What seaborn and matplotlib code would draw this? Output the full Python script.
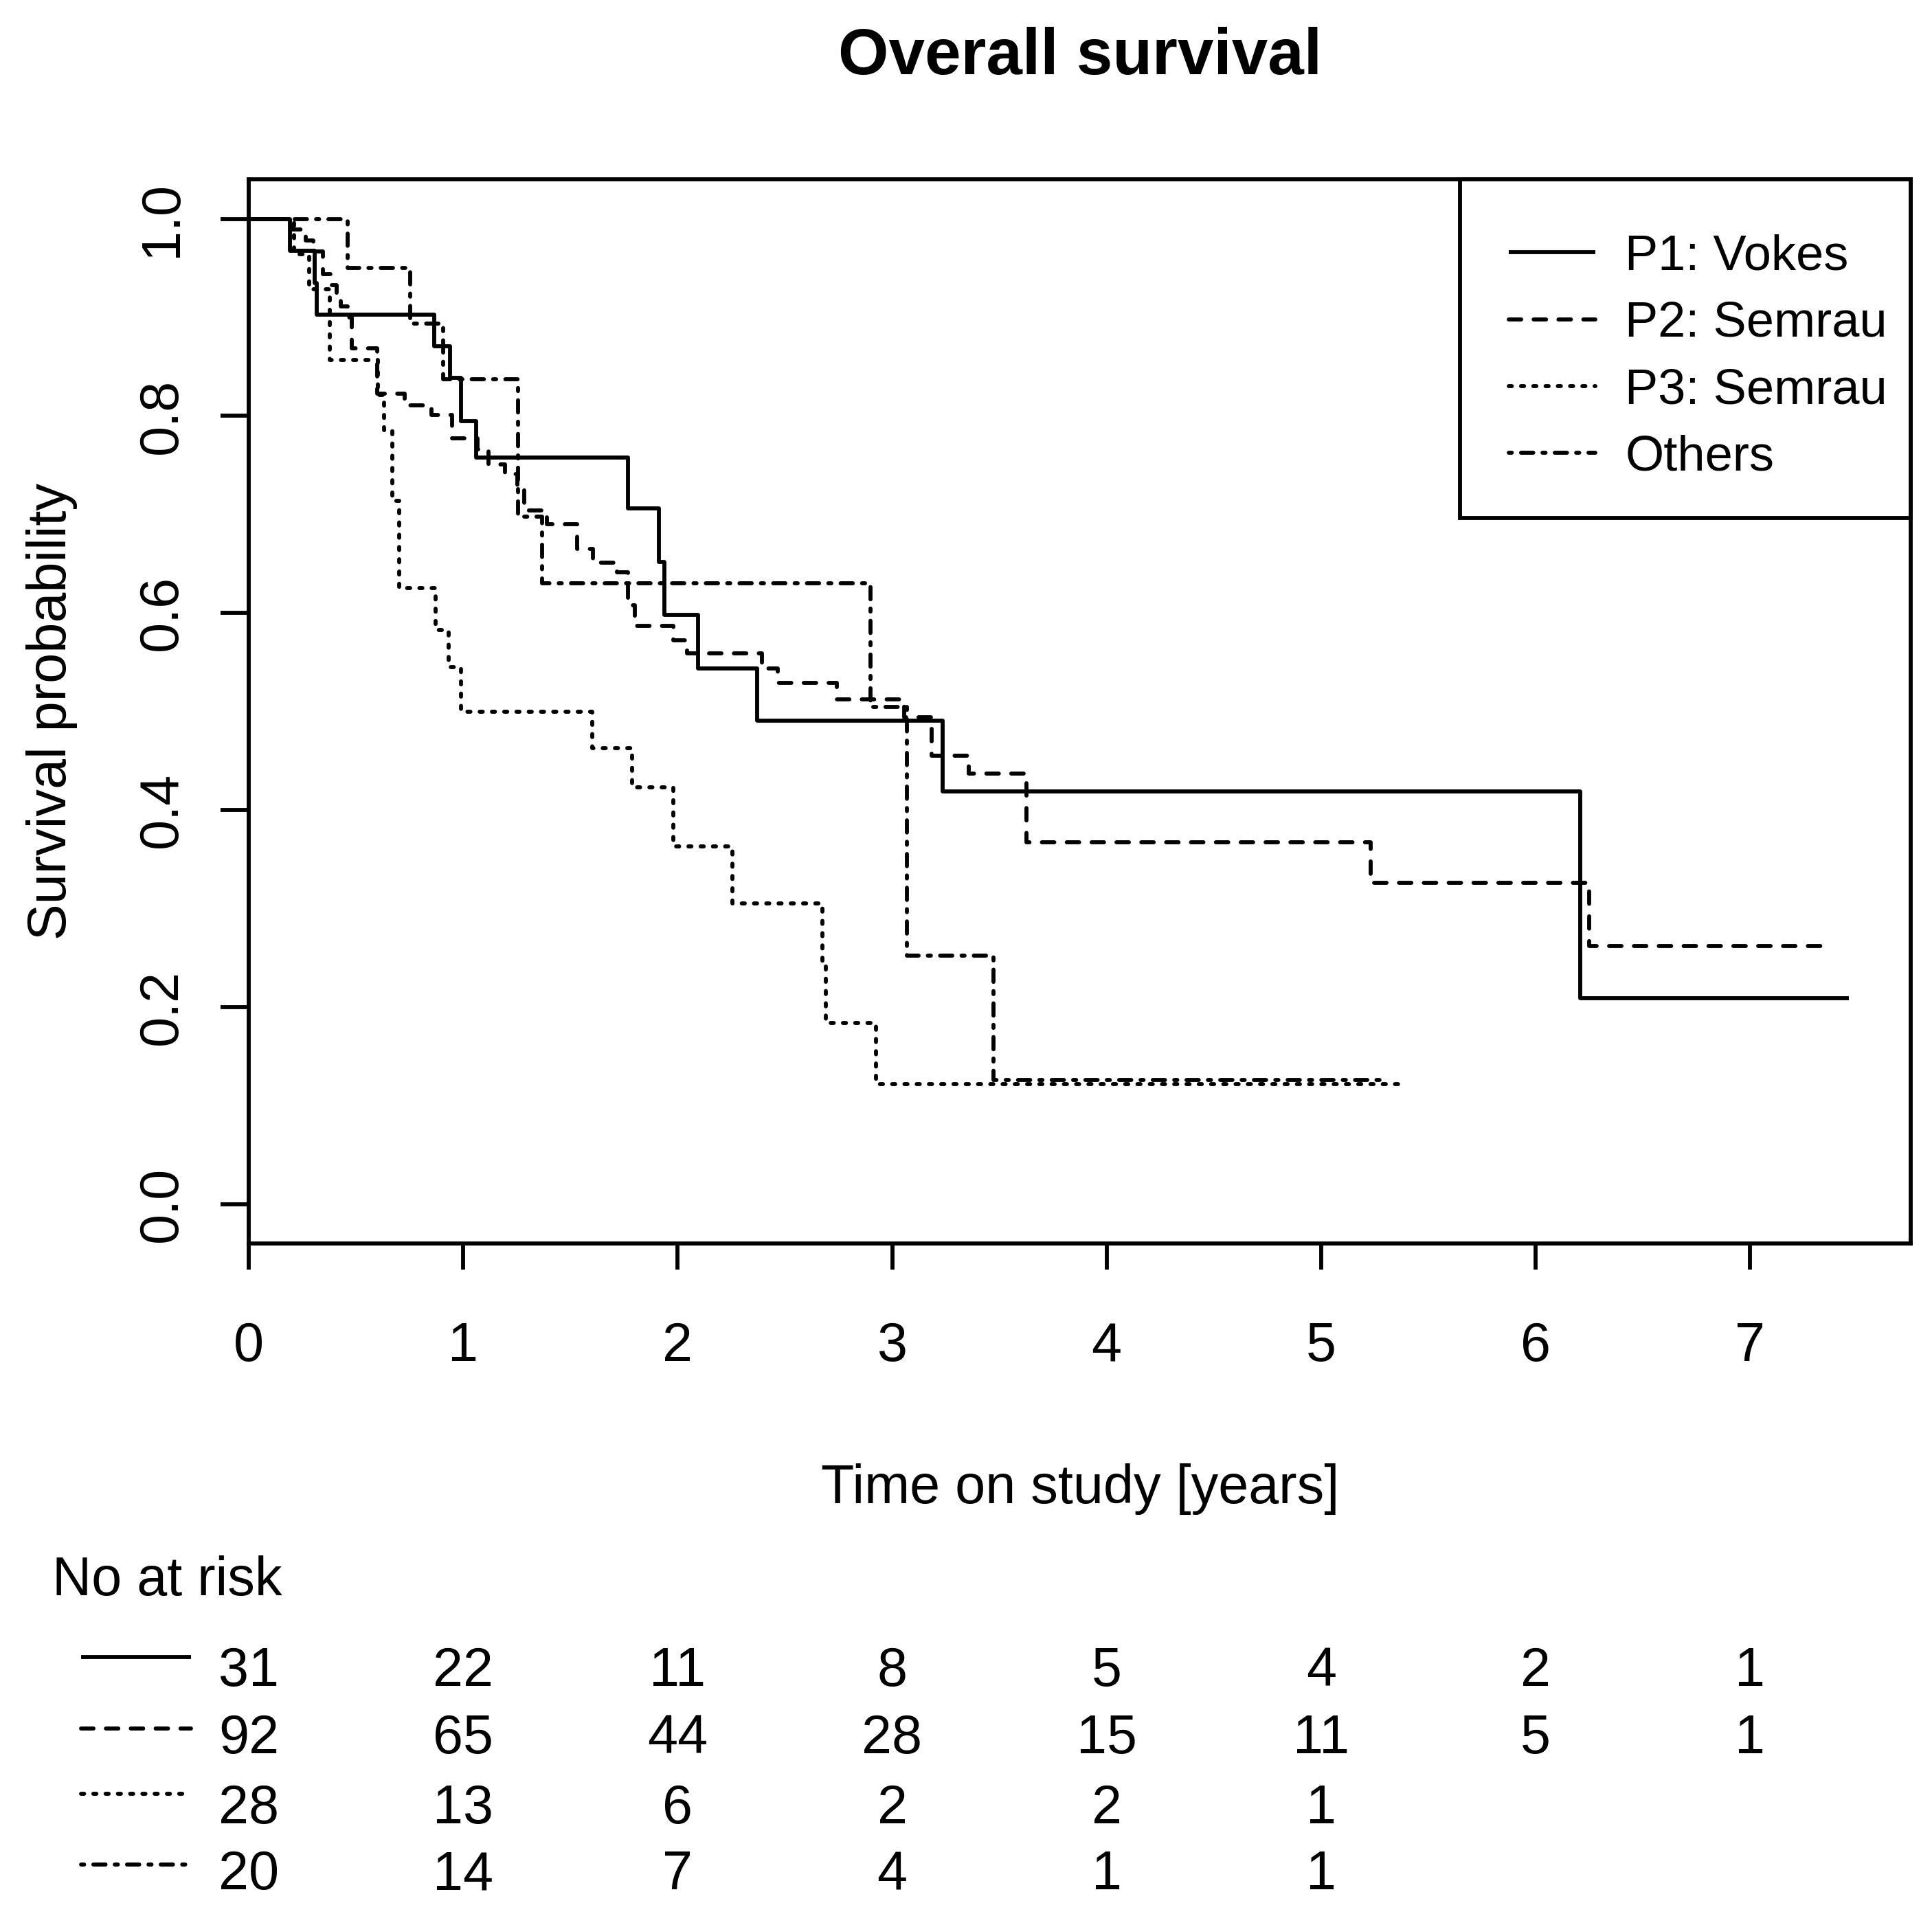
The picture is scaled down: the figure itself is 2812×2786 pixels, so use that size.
import matplotlib
matplotlib.use("Agg")
import matplotlib.pyplot as plt
import matplotlib.transforms as mtransforms
from matplotlib.patches import Rectangle
import seaborn as sns

# step curves (time in years, survival after each step)
p1_time = [0, 0.193, 0.308, 0.318, 0.865, 0.937, 0.991, 1.06, 1.768, 1.912,
           1.939, 2.095, 2.369, 3.235, 6.21, 7.46]
p1_surv = [1.0, 0.968, 0.935, 0.903, 0.871, 0.839, 0.795, 0.758, 0.706, 0.652,
           0.598, 0.544, 0.491, 0.419, 0.209, 0.209]

p2_time = [0, 0.20, 0.265, 0.30, 0.345, 0.38, 0.41, 0.43, 0.46, 0.48, 0.60,
           0.727, 0.852, 0.948, 1.066, 1.119, 1.194, 1.252, 1.285, 1.391, 1.532,
           1.605, 1.717, 1.768, 1.80, 1.98, 2.044, 2.393, 2.467, 2.742, 3.055,
           3.183, 3.358, 3.625, 5.23, 6.25, 7.37]
p2_surv = [1.0, 0.989, 0.978, 0.967, 0.944, 0.933, 0.922, 0.911, 0.90, 0.869,
           0.823, 0.811, 0.801, 0.777, 0.766, 0.751, 0.741, 0.727, 0.704, 0.690,
           0.665, 0.651, 0.641, 0.608, 0.587, 0.572, 0.559, 0.544, 0.529, 0.512,
           0.494, 0.455, 0.437, 0.367, 0.326, 0.262, 0.262]

p3_time = [0, 0.21, 0.28, 0.377, 0.601, 0.629, 0.670, 0.70, 0.871, 0.933, 0.99,
           1.60, 1.787, 1.98, 2.255, 2.674, 2.69, 2.926, 5.38]
p3_surv = [1.0, 0.964, 0.929, 0.857, 0.821, 0.786, 0.714, 0.625, 0.583, 0.545,
           0.50, 0.463, 0.423, 0.363, 0.305, 0.244, 0.184, 0.122, 0.122]

oth_time = [0, 0.46, 0.751, 0.906, 1.255, 1.368, 2.898, 3.068, 3.472, 5.30]
oth_surv = [1.0, 0.95, 0.894, 0.837, 0.698, 0.630, 0.505, 0.252, 0.126, 0.126]

labels = ["P1: Vokes", "P2: Semrau", "P3: Semrau", "Others"]

# numbers at risk
risk_times = [0, 1, 2, 3, 4, 5, 6, 7]
risk_p1 = [31, 22, 11, 8, 5, 4, 2, 1]
risk_p2 = [92, 65, 44, 28, 15, 11, 5, 1]
risk_p3 = [28, 13, 6, 2, 2, 1]
risk_oth = [20, 14, 7, 4, 1, 1]

sns.set_style("ticks")
plt.rcParams["font.family"] = ["Liberation Sans Narrow", "Liberation Sans", "DejaVu Sans"]
plt.rcParams.update({"text.color": "black", "axes.labelcolor": "black",
                     "xtick.color": "black", "ytick.color": "black",
                     "axes.edgecolor": "black", "axes.titlecolor": "black"})

LW = 2.1
FS = 28.5
styles = ["-", (0, (3.1, 3.1)), (0, (0.76, 2.3)), (0, (0.76, 2.3, 3.05, 2.3))]

fig = plt.figure(figsize=(2812 / 200, 2786 / 200), dpi=200)
ax = fig.add_axes([0.1288, 0.3503, 0.9890 - 0.1288, 0.9062 - 0.3503])

curves = [(p1_time, p1_surv), (p2_time, p2_surv), (p3_time, p3_surv), (oth_time, oth_surv)]
for (t, s), lab, ls in zip(curves, labels, styles):
    sns.lineplot(x=t, y=s, drawstyle="steps-post", color="black", linewidth=LW,
                 linestyle=ls, dash_capstyle="round", solid_capstyle="butt",
                 label=lab, estimator=None, sort=False, ax=ax)

ax.set_xlim(0, 7.75)
ax.set_ylim(-0.04, 1.04)
ax.set_xticks(risk_times)
ax.set_yticks([0, 0.2, 0.4, 0.6, 0.8, 1.0])
ax.set_yticklabels(["0.0", "0.2", "0.4", "0.6", "0.8", "1.0"], rotation=90, va="center")
ax.tick_params(axis="x", length=13.7, width=LW, pad=27, labelsize=FS, color="black")
ax.tick_params(axis="y", length=14.8, width=LW, pad=17, labelsize=FS, color="black")
for sp in ax.spines.values():
    sp.set_visible(True)
    sp.set_linewidth(LW)
    sp.set_color("black")

ax.set_xlabel("Time on study [years]", fontsize=FS, va="center")
ax.xaxis.set_label_coords(0.5, -0.231)
ax.set_ylabel("Survival probability", fontsize=FS, va="center")
ax.yaxis.set_label_coords(-0.1185, 0.5)
ax.set_title("Overall survival", fontsize=34, fontweight="bold", y=1.104, va="center")

# legend box in the top right corner, entries placed inside it
ax.add_patch(Rectangle((0.7288, 0.6817), 0.2712, 0.3183, transform=ax.transAxes,
                       facecolor="white", edgecolor="black", linewidth=LW,
                       zorder=4, clip_on=False))
leg = ax.legend(loc="upper left", bbox_to_anchor=(0.758, 0.9488), borderaxespad=0,
                fontsize=26, frameon=False, handlelength=1.75, handletextpad=0.6,
                borderpad=0, labelspacing=0.42)
leg.set_zorder(5)
for h in leg.get_lines():
    h.set_linewidth(LW)

# number at risk table under the plot
blend = mtransforms.blended_transform_factory(ax.transData, fig.transFigure)
fig.text(0.027, 0.1667, "No at risk", fontsize=FS, ha="left", va="baseline")
risk_rows = [risk_p1, risk_p2, risk_p3, risk_oth]
row_base = [0.1192, 0.0840, 0.0475, 0.0129]
row_line = [0.1342, 0.0970, 0.0628, 0.0258]
for vals, yb, yl, ls in zip(risk_rows, row_base, row_line, styles):
    ax.plot([0.042, 0.0989], [yl, yl], transform=fig.transFigure, clip_on=False,
            color="black", linewidth=LW, linestyle=ls, dash_capstyle="round",
            solid_capstyle="butt")
    for t, n in zip(risk_times, vals):
        ax.text(t, yb, str(n), transform=blend, fontsize=FS, ha="center",
                va="baseline", clip_on=False)

fig.savefig("out.png", dpi=200, facecolor="white")
